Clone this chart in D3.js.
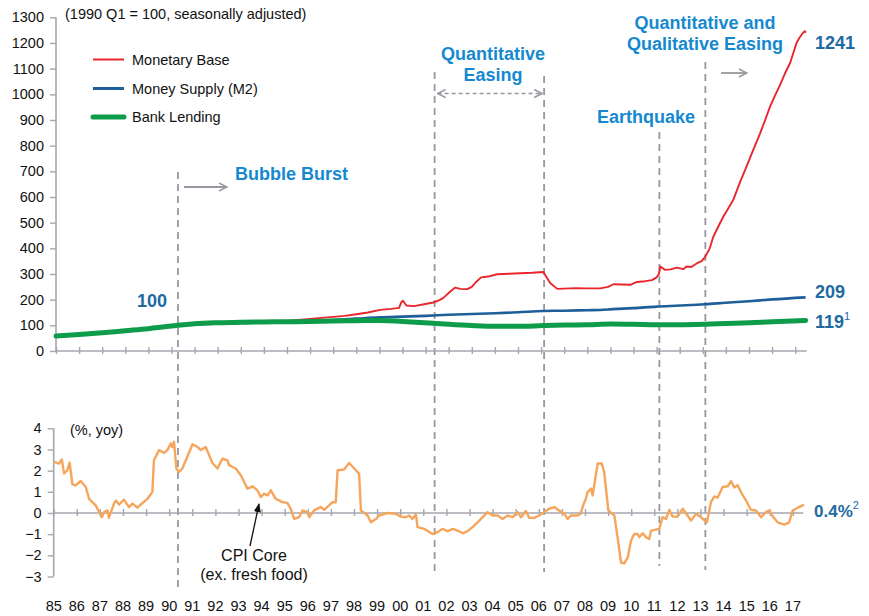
<!DOCTYPE html>
<html><head><meta charset="utf-8">
<script src="https://cdn.jsdelivr.net/npm/d3@7"></script>
<style>
html,body{margin:0;padding:0;background:#fff;}
svg{display:block;font-family:"Liberation Sans",Arial,Helvetica,sans-serif;}
</style></head>
<body><svg id="c" width="869" height="616"></svg>
<script>
// ---------- DATA ----------
const yearLabels = ["85","86","87","88","89","90","91","92","93","94","95","96","97","98","99","00","01","02","03","04","05","06","07","08","09","10","11","12","13","14","15","16","17"];
const topTicks = [0,100,200,300,400,500,600,700,800,900,1000,1100,1200,1300];
const bottomTicks = [-3,-2,-1,0,1,2,3,4];

const seriesNames = ["Monetary Base","Money Supply (M2)","Bank Lending"];

const baseDates = [1985.0,1986.0,1987.0,1988.0,1989.0,1990.0,1990.28,1991.0,1992.0,1993.0,1994.0,1995.0,1995.5,1996.0,1996.5,1997.0,1997.5,1998.0,1998.5,1999.03,1999.5,1999.85,1999.95,2000.02,2000.17,2000.5,2001.05,2001.33,2001.6,2001.77,2002.07,2002.28,2002.5,2002.8,2003.0,2003.2,2003.4,2003.7,2004.1,2004.6,2005.1,2005.6,2006.1,2006.25,2006.4,2006.7,2007.0,2007.5,2008.0,2008.56,2008.9,2009.13,2009.5,2009.86,2010.15,2010.5,2010.8,2011.0,2011.1,2011.16,2011.37,2011.6,2011.88,2012.16,2012.3,2012.5,2012.75,2012.95,2013.11,2013.3,2013.46,2013.7,2013.89,2014.1,2014.32,2014.62,2014.83,2015.1,2015.48,2015.7,2015.91,2016.1,2016.34,2016.55,2016.78,2017.06,2017.2,2017.35,2017.42,2017.46];
const baseValues = [58,64,71,79,88,97,100,104,107,109,112,117,121,125,129,133,137,143,150,160,164,168,190,196,177,175,184,189,198,207,232,247,242,241,250,270,287,290,299,301,303,305,308,285,264,242,243,245,244,244,250,260,259,258,269,272,276,287,300,329,316,318,325,319,329,327,342,350,368,400,446,490,524,555,589,660,705,765,848,900,952,990,1036,1080,1122,1201,1222,1241,1246,1240];

const m2Dates = [1985.0,1986.0,1987.0,1988.0,1989.0,1990.0,1990.28,1991.0,1992.0,1993.0,1994.0,1995.0,1996.0,1997.0,1998.0,1999.0,2000.0,2001.0,2002.0,2003.0,2004.0,2005.0,2006.1,2007.0,2008.0,2008.56,2009.1,2010.0,2011.0,2012.0,2013.1,2014.0,2015.0,2016.0,2017.45];
const m2Values = [58,64,71,79,88,97,100,104,107,109,111,114,117,121,126,131,134,137,141,144,147,151,156,157,159,160,163,167,173,177,182,188,194,201,209];

const lendDates = [1985.0,1986.0,1987.0,1988.0,1989.0,1990.0,1990.28,1991.0,1992.0,1993.0,1994.0,1995.0,1996.0,1997.0,1998.0,1999.0,2000.0,2001.33,2002.0,2003.0,2004.0,2005.0,2006.1,2007.0,2008.0,2009.0,2010.0,2011.0,2012.0,2013.1,2014.0,2015.0,2016.0,2017.45];
const lendValues = [58,64,71,79,87,97,100,106,110,112,113,114,115,117,118,119,115,108,104,99,96,96,99,101,102,105,104,102,102,104,107,110,114,119];

const cpiDates = [1985.01,1985.23,1985.35,1985.45,1985.59,1985.69,1985.81,1985.95,1986.17,1986.39,1986.53,1986.82,1987.08,1987.18,1987.33,1987.39,1987.61,1987.69,1987.83,1988.04,1988.26,1988.41,1988.62,1988.77,1989.06,1989.27,1989.34,1989.56,1989.78,1989.92,1990.07,1990.14,1990.21,1990.31,1990.43,1990.57,1991.01,1991.22,1991.37,1991.58,1991.87,1992.09,1992.31,1992.52,1992.59,1992.88,1993.10,1993.39,1993.61,1993.82,1993.96,1994.11,1994.26,1994.40,1994.61,1994.90,1995.12,1995.26,1995.41,1995.62,1995.77,1995.99,1996.06,1996.27,1996.56,1996.71,1996.92,1997.07,1997.21,1997.29,1997.57,1997.79,1998.01,1998.22,1998.30,1998.59,1998.73,1998.95,1999.09,1999.45,1999.81,2000.03,2000.24,2000.39,2000.53,2000.68,2000.75,2001.04,2001.40,2001.62,2001.83,2002.05,2002.27,2002.48,2002.70,2002.92,2003.13,2003.35,2003.57,2003.78,2004.00,2004.22,2004.43,2004.65,2004.87,2005.08,2005.23,2005.44,2005.58,2005.80,2006.02,2006.23,2006.45,2006.67,2006.88,2007.10,2007.25,2007.39,2007.68,2007.80,2007.95,2008.04,2008.11,2008.26,2008.33,2008.55,2008.72,2008.83,2009.01,2009.27,2009.41,2009.56,2009.70,2009.85,2009.99,2010.13,2010.28,2010.35,2010.50,2010.64,2010.78,2010.86,2011.21,2011.36,2011.51,2011.65,2011.79,2012.01,2012.23,2012.44,2012.59,2012.80,2013.02,2013.28,2013.45,2013.60,2013.74,2013.96,2014.18,2014.32,2014.46,2014.61,2014.75,2014.97,2015.18,2015.40,2015.62,2015.83,2015.98,2016.13,2016.34,2016.63,2016.84,2016.99,2017.21,2017.42,2017.48];
const cpiValues = [2.41,2.33,2.53,1.86,2.02,2.38,1.35,1.30,1.51,1.23,0.67,0.36,-0.20,0.04,0.12,-0.23,0.44,0.59,0.40,0.63,0.28,0.44,0.25,0.40,0.67,0.99,2.49,2.97,2.84,2.97,3.29,3.10,3.36,2.10,1.94,2.10,3.25,3.12,2.97,3.12,2.36,2.10,2.57,2.49,2.26,2.10,1.78,1.15,1.26,1.07,0.75,0.91,0.83,1.07,0.67,0.51,0.47,0.20,-0.28,-0.20,0.12,0.04,-0.20,0.12,0.28,0.15,0.36,0.51,0.51,2.02,2.05,2.36,2.10,1.86,0.12,-0.12,-0.44,-0.28,-0.12,0.00,-0.04,-0.17,-0.20,-0.12,-0.28,-0.07,-0.67,-0.75,-0.99,-0.91,-0.75,-0.86,-0.75,-0.83,-0.96,-0.86,-0.67,-0.44,-0.20,0.04,-0.12,-0.12,-0.28,-0.12,-0.20,0.04,-0.20,0.09,-0.23,-0.23,-0.12,0.04,0.20,0.28,0.12,-0.04,-0.28,-0.12,-0.12,-0.05,0.45,0.67,0.99,1.15,0.83,2.34,2.34,1.94,0.12,-0.12,-1.15,-2.34,-2.38,-2.10,-1.31,-0.99,-0.99,-1.15,-0.96,-1.15,-1.23,-0.83,-0.75,-0.20,-0.28,0.15,-0.17,-0.17,0.20,-0.12,-0.36,-0.04,-0.20,-0.44,0.51,0.78,0.72,1.23,1.26,1.51,1.20,1.31,0.99,0.59,0.15,0.12,-0.20,0.04,0.12,-0.17,-0.44,-0.55,-0.44,0.12,0.25,0.36,0.40];

const eventDates = [1990.28, 2001.39, 2006.13, 2011.12, 2013.11];
const endLabels = ["1241","209","119","0.4%"];

// ---------- DRAW ----------
const svg = d3.select("#c");
const axisCol = "#a6a6ae", dashCol = "#9898a0";
const blueAnno = "#1589cf", blueNum = "#1d6aa2";
const colRed = "#e8262b", colBlue = "#1f5f99", colGreen = "#0c9c4a", colOrange = "#f5a55c";

const xTop = d3.scaleLinear().domain([1985, 2017]).range([56, 795.2]);
const xBot = d3.scaleLinear().domain([1985, 2017]).range([53.7, 792.9]);
const yTop = d3.scaleLinear().domain([0, 1300]).range([351, 17.3]);
const yBot = d3.scaleLinear().domain([-3, 4]).range([576.5, 428.3]);
const years = d3.range(1985, 2018);

// dashed event lines (behind)
const evTop = [172, 72, 76, 132, 62];
const evBot = [592, 572, 572, 566, 570];
svg.append("g").selectAll("line").data(eventDates).join("line")
  .attr("x1", d => xTop(d)).attr("x2", d => xTop(d))
  .attr("y1", (d,i) => evTop[i]).attr("y2", (d,i) => evBot[i])
  .attr("stroke", dashCol).attr("stroke-width", 1.8).attr("stroke-dasharray", "7,5");

// top y axis
const gyT = svg.append("g").attr("transform", "translate(56,0)")
  .call(d3.axisLeft(yTop).tickValues(topTicks).tickSize(6).tickPadding(6).tickFormat(d3.format("d")));
gyT.select(".domain").attr("d", `M0,${yTop(1300)}V${yTop(0)}`);
// top x axis
const gxT = svg.append("g").attr("transform", `translate(0,${yTop(0)})`)
  .call(d3.axisBottom(xTop).tickValues(years).tickSize(4).tickFormat(""));
gxT.select(".domain").attr("d", `M56,0H806.7`);
gxT.selectAll(".tick line").attr("y1", -4).attr("y2", 3);

// bottom y axis
const gyB = svg.append("g").attr("transform", "translate(53.7,0)")
  .call(d3.axisLeft(yBot).tickValues(bottomTicks).tickSize(6).tickPadding(6)
    .tickFormat(d => d < 0 ? "\u2212" + Math.abs(d) : d));
gyB.select(".domain").attr("d", `M0,${yBot(4)}V${yBot(-3)}`);
const gxB = svg.append("g").attr("transform", `translate(0,${yBot(0)})`)
  .call(d3.axisBottom(xBot).tickValues(years).tickSize(4).tickFormat(""));
gxB.select(".domain").attr("d", `M53.7,0H803.3`);
gxB.selectAll(".tick line").attr("y1", -4).attr("y2", 3);

[gyT, gxT, gyB, gxB].forEach(g => {
  g.selectAll(".domain").attr("stroke", axisCol).attr("stroke-width", 1.6);
  g.selectAll(".tick line").attr("stroke", axisCol).attr("stroke-width", 1.4);
  g.selectAll(".tick text").attr("fill", "#111").attr("font-size", 14.5)
    .attr("font-family", '"Liberation Sans",Arial,sans-serif');
});

// x labels
svg.append("g").selectAll("text").data(yearLabels).join("text")
  .attr("x", (d,i) => xBot(years[i])).attr("y", 611)
  .attr("text-anchor", "middle").attr("font-size", 14.5).attr("fill", "#111").text(d => d);

// lines
const mk = (dates, vals) => dates.map((d,i) => [d, vals[i]]);
const lineTop = d3.line().x(d => xTop(d[0])).y(d => yTop(d[1]));
const lineTopSmooth = d3.line().x(d => xTop(d[0])).y(d => yTop(d[1])).curve(d3.curveMonotoneX);
const lineBot = d3.line().x(d => xBot(d[0])).y(d => yBot(d[1]));

svg.append("path").datum(mk(baseDates, baseValues)).attr("d", lineTop)
  .attr("fill", "none").attr("stroke", colRed).attr("stroke-width", 1.9).attr("stroke-linejoin", "round");
svg.append("path").datum(mk(m2Dates, m2Values)).attr("d", lineTopSmooth)
  .attr("fill", "none").attr("stroke", colBlue).attr("stroke-width", 2.6);
svg.append("path").datum(mk(lendDates, lendValues)).attr("d", lineTopSmooth)
  .attr("fill", "none").attr("stroke", colGreen).attr("stroke-width", 5).attr("stroke-linecap", "round");
svg.append("path").datum(mk(cpiDates, cpiValues)).attr("d", lineBot)
  .attr("fill", "none").attr("stroke", colOrange).attr("stroke-width", 2.4).attr("stroke-linejoin", "round");

// legend
const legCols = [colRed, colBlue, colGreen], legW = [2, 3, 5], legY = [59.5, 88.5, 117];
const leg = svg.append("g");
seriesNames.forEach((n, i) => {
  leg.append("line").attr("x1", 93).attr("x2", 124).attr("y1", legY[i]).attr("y2", legY[i])
    .attr("stroke", legCols[i]).attr("stroke-width", legW[i]).attr("stroke-linecap", i === 2 ? "round" : "butt");
  leg.append("text").attr("x", 132).attr("y", legY[i] + 5).attr("font-size", 14.5).attr("fill", "#111").text(n);
});

// titles
svg.append("text").attr("x", 65).attr("y", 19).attr("font-size", 14.5).attr("fill", "#111")
  .text("(1990 Q1 = 100, seasonally adjusted)");
svg.append("text").attr("x", 70).attr("y", 435).attr("font-size", 14.5).attr("fill", "#111").text("(%, yoy)");

// annotations
const anno = (x, y, t, anchor) => svg.append("text").attr("x", x).attr("y", y)
  .attr("text-anchor", anchor || "start").attr("font-size", 18).attr("font-weight", "bold")
  .attr("fill", blueAnno).text(t);
anno(235, 180, "Bubble Burst");
anno(493, 60, "Quantitative", "middle");
anno(493, 81, "Easing", "middle");
anno(646, 123, "Earthquake", "middle");
anno(705, 29, "Quantitative and", "middle");
anno(705, 50, "Qualitative Easing", "middle");

// arrows
const defs = svg.append("defs");
defs.append("marker").attr("id", "arr").attr("viewBox", "0 0 10 10")
  .attr("refX", 9).attr("refY", 5).attr("markerWidth", 10).attr("markerHeight", 10)
  .attr("markerUnits", "userSpaceOnUse").attr("orient", "auto-start-reverse")
  .append("path").attr("d", "M1,1L9,5L1,9").attr("fill", "none").attr("stroke", dashCol).attr("stroke-width", 1.5);
defs.append("marker").attr("id", "arrBlk").attr("viewBox", "0 0 10 10")
  .attr("refX", 9).attr("refY", 5).attr("markerWidth", 9).attr("markerHeight", 9)
  .attr("markerUnits", "userSpaceOnUse").attr("orient", "auto")
  .append("path").attr("d", "M0,1L10,5L0,9Z").attr("fill", "#111");

svg.append("line").attr("x1", 184).attr("x2", 227).attr("y1", 187).attr("y2", 187)
  .attr("stroke", dashCol).attr("stroke-width", 1.8).attr("marker-end", "url(#arr)");
svg.append("line").attr("x1", 721).attr("x2", 747).attr("y1", 73).attr("y2", 73)
  .attr("stroke", dashCol).attr("stroke-width", 1.8).attr("marker-end", "url(#arr)");
svg.append("line").attr("x1", xTop(eventDates[1]) + 3).attr("x2", xTop(eventDates[2]) - 2).attr("y1", 93.5).attr("y2", 93.5)
  .attr("stroke", dashCol).attr("stroke-width", 1.5).attr("stroke-dasharray", "4,3")
  .attr("marker-start", "url(#arr)").attr("marker-end", "url(#arr)");

// CPI label
svg.append("line").attr("x1", 250).attr("y1", 546).attr("x2", 259).attr("y2", 504)
  .attr("stroke", "#111").attr("stroke-width", 1.3).attr("marker-end", "url(#arrBlk)");
svg.append("text").attr("x", 254).attr("y", 561).attr("text-anchor", "middle").attr("font-size", 16).attr("fill", "#111").text("CPI Core");
svg.append("text").attr("x", 254).attr("y", 580).attr("text-anchor", "middle").attr("font-size", 16).attr("fill", "#111").text("(ex. fresh food)");

// end labels
const num = (x, y, t, sup, fs) => {
  const tx = svg.append("text").attr("x", x).attr("y", y).attr("font-size", fs || 18)
    .attr("font-weight", "bold").attr("fill", blueNum).text(t);
  if (sup) tx.append("tspan").attr("dy", -8).attr("font-size", 11).attr("font-weight", "normal").text(sup);
};
num(815, 49, endLabels[0]);
num(815, 298, endLabels[1]);
num(815, 328, endLabels[2], "1");
num(814, 517, endLabels[3], "2", 17);
num(137, 307, "100");
</script></body></html>
